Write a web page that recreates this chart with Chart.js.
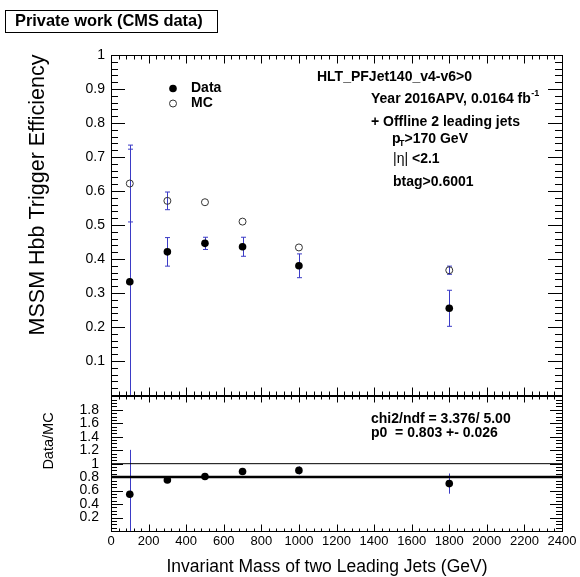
<!DOCTYPE html>
<html>
<head>
<meta charset="utf-8">
<script src="https://cdn.jsdelivr.net/npm/chart.js@4/dist/chart.umd.min.js"></script>
<style>
html,body{margin:0;padding:0;background:#fff;}
</style>
</head>
<body>
<canvas id="chartTrigEff" width="580" height="577"></canvas>
<script>
// values
const massBins   = [100, 300, 500, 700, 1000, 1800];
const effData    = [0.333, 0.421, 0.446, 0.436, 0.380, 0.255];
const effDataErr = [0.390, 0.042, 0.018, 0.028, 0.035, 0.053];
const effMC      = [0.622, 0.571, 0.567, 0.510, 0.434, 0.367];
const effMCErr   = [0.113, 0.026, 0.006, 0.006, 0.006, 0.012];
const ratioData  = [0.545, 0.758, 0.809, 0.884, 0.900, 0.704];
const ratioErr   = [0.660, 0.050, 0.030, 0.050, 0.060, 0.150];
const fitP0 = 0.803;
const unity = 1;
const xRange = [0, 2400];

(function(){
    const FONT = "'Liberation Sans', Arial, Helvetica, sans-serif";
    const ERR_COLOR = '#3b3bc6';
    const MARKER_R = 3.8;

    function points(xs, ys){
        return xs.map((x, i) => ({ x, y: ys[i] }));
    }

    function drawErrors(chart, scaleId, ys, errs, cap){
        const ctx = chart.ctx, a = chart.chartArea;
        const sx = chart.scales.x, sy = chart.scales[scaleId];
        ctx.save();
        ctx.beginPath();
        ctx.rect(a.left, sy.top, a.right - a.left, sy.bottom - sy.top);
        ctx.clip();
        ctx.strokeStyle = ERR_COLOR;
        ctx.lineWidth = 1;
        massBins.forEach((m, i) => {
            const px = Math.round(sx.getPixelForValue(m)) + 0.5;
            const hi = sy.getPixelForValue(ys[i] + errs[i]);
            const lo = sy.getPixelForValue(ys[i] - errs[i]);
            // like ROOT: nothing drawn when the bar hides inside the marker
            if((lo - hi) / 2 <= MARKER_R) return;
            ctx.beginPath();
            ctx.moveTo(px, hi); ctx.lineTo(px, lo);
            if(cap){
                ctx.moveTo(px - cap, hi); ctx.lineTo(px + cap, hi);
                ctx.moveTo(px - cap, lo); ctx.lineTo(px + cap, lo);
            }
            ctx.stroke();
        });
        ctx.restore();
    }

    function yTicks(ctx, s, a, max, step, sub, big, small){
        const n = Math.round(max / step);
        ctx.beginPath();
        for(let i = 0; i <= n; i++){
            const py = Math.round(s.getPixelForValue(i * step)) + 0.5;
            const len = i % sub === 0 ? big : small;
            ctx.moveTo(a.left, py); ctx.lineTo(a.left + len, py);
            ctx.moveTo(a.right, py); ctx.lineTo(a.right - len, py);
        }
        ctx.stroke();
    }

    function xTicks(ctx, s, y, dir, big, small){
        const step = 40, n = Math.round((xRange[1] - xRange[0]) / step);
        ctx.beginPath();
        for(let i = 0; i <= n; i++){
            const px = Math.round(s.getPixelForValue(xRange[0] + i * step)) + 0.5;
            const len = i % 5 === 0 ? big : small;
            ctx.moveTo(px, y); ctx.lineTo(px, y + dir * len);
        }
        ctx.stroke();
    }

    function text(ctx, s, x, y, size, bold, align){
        ctx.font = (bold ? 'bold ' : '') + size + 'px ' + FONT;
        ctx.textAlign = align || 'left';
        ctx.textBaseline = 'middle';
        ctx.fillText(s, x, y);
        return x + ctx.measureText(s).width;
    }

    function vtext(ctx, s, x, y, size){
        ctx.save();
        ctx.translate(x, y);
        ctx.rotate(-Math.PI / 2);
        text(ctx, s, 0, 0, size, false, 'center');
        ctx.restore();
    }

    const rootFrame = {
        id: 'rootFrame',
        beforeDatasetsDraw(chart){
            drawErrors(chart, 'eff', effData, effDataErr, 2.5);
            drawErrors(chart, 'eff', effMC, effMCErr, 2.5);
            drawErrors(chart, 'ratio', ratioData, ratioErr, 0);
        },
        afterDraw(chart){
            const ctx = chart.ctx, a = chart.chartArea;
            const eff = chart.scales.eff, rat = chart.scales.ratio, sx = chart.scales.x;
            ctx.save();
            ctx.strokeStyle = '#000';
            ctx.fillStyle = '#000';
            ctx.lineWidth = 1;

            // pad frames
            const L = Math.round(a.left) + 0.5, R = Math.round(a.right) + 0.5;
            const effTop = Math.round(eff.top) + 0.5, effBot = Math.round(eff.bottom) + 0.5;
            const ratTop = effBot + 1, ratBot = Math.round(rat.bottom) + 0.5;
            ctx.strokeRect(L, effTop, R - L, effBot - effTop);
            ctx.strokeRect(L, ratTop, R - L, ratBot - ratTop);

            yTicks(ctx, eff, a, 1, 0.02, 5, 14, 7);
            yTicks(ctx, rat, a, 2, 0.05, 4, 12, 6);
            xTicks(ctx, sx, effTop, 1, 8, 4);
            xTicks(ctx, sx, effBot, -1, 8, 4);
            xTicks(ctx, sx, ratTop, 1, 6, 3);
            xTicks(ctx, sx, ratBot, -1, 7, 3);

            // title box
            ctx.strokeRect(5.5, 10.5, 212, 22);
            text(ctx, 'Private work (CMS data)', 15, 21.5, 16.4, true);

            // axis titles
            vtext(ctx, 'MSSM Hbb Trigger Efficiency', 38, 195, 21.5);
            vtext(ctx, 'Data/MC', 49, 441, 14.5);
            text(ctx, 'Invariant Mass of two Leading Jets (GeV)', 327, 567, 17.5, false, 'center');

            // legend
            ctx.beginPath(); ctx.arc(173, 88.5, MARKER_R, 0, Math.PI * 2); ctx.fill();
            ctx.beginPath(); ctx.arc(173, 103.5, 3.5, 0, Math.PI * 2);
            ctx.strokeStyle = '#333'; ctx.stroke();
            text(ctx, 'Data', 191, 88.5, 14, true);
            text(ctx, 'MC', 191, 103.5, 14, true);

            // selection labels
            text(ctx, 'HLT_PFJet140_v4-v6>0', 317, 77, 14, true);
            let e = text(ctx, 'Year 2016APV, 0.0164 fb', 371, 99.5, 14, true);
            text(ctx, '-1', e + 0.5, 94, 9, true);
            text(ctx, '+ Offline 2 leading jets', 371, 122, 14, true);
            e = text(ctx, 'p', 392, 139, 14, true);
            text(ctx, 'T', e - 1.5, 144, 9, true);
            text(ctx, '>170 GeV', e + 4, 139.5, 14, true);
            e = text(ctx, '|η|', 393, 159.5, 14, false);
            text(ctx, ' <2.1', e, 159.5, 14, true);
            text(ctx, 'btag>0.6001', 393, 182, 14, true);

            // fit result
            text(ctx, 'chi2/ndf = 3.376/ 5.00', 371, 419.5, 14, true);
            text(ctx, 'p0  = 0.803 +- 0.026', 371, 433.5, 14, true);
            ctx.restore();
        }
    };

    function init(){
        Chart.defaults.font.family = FONT;
        Chart.defaults.color = '#000';
        const ctx = document.getElementById('chartTrigEff').getContext('2d');
        new Chart(ctx, {
            type: 'scatter',
            data: {
                datasets: [
                    { label: 'Data', data: points(massBins, effData), yAxisID: 'eff',
                      pointRadius: MARKER_R, pointBackgroundColor: '#000', pointBorderColor: '#000', pointBorderWidth: 0 },
                    { label: 'MC', data: points(massBins, effMC), yAxisID: 'eff',
                      pointRadius: 3.5, pointBackgroundColor: 'rgba(0,0,0,0)', pointBorderColor: '#333', pointBorderWidth: 1 },
                    { label: 'Data/MC', data: points(massBins, ratioData), yAxisID: 'ratio',
                      pointRadius: MARKER_R, pointBackgroundColor: '#000', pointBorderColor: '#000', pointBorderWidth: 0 },
                    { label: 'fit', data: points(xRange, [fitP0, fitP0]), yAxisID: 'ratio', showLine: true,
                      borderColor: '#000', borderWidth: 2.6, pointRadius: 0 },
                    { label: 'one', data: points(xRange, [unity, unity]), yAxisID: 'ratio', showLine: true,
                      borderColor: '#000', borderWidth: 1, pointRadius: 0 }
                ]
            },
            options: {
                responsive: false,
                animation: false,
                layout: { padding: { top: 55, right: 18, bottom: 16, left: 0 } },
                plugins: { legend: { display: false }, tooltip: { enabled: false } },
                scales: {
                    x: {
                        type: 'linear', min: xRange[0], max: xRange[1],
                        grid: { display: false, drawTicks: false }, border: { display: false },
                        ticks: { stepSize: 200, autoSkip: false, maxRotation: 0, padding: 3, font: { size: 13 },
                                 callback: v => String(Math.round(v)) },
                        afterFit: s => { s.height = 30; }
                    },
                    ratio: {
                        type: 'linear', position: 'left', stack: 'pads', stackWeight: 136,
                        min: 0, max: 2.02,
                        grid: { display: false, drawTicks: false }, border: { display: false },
                        ticks: { stepSize: 0.2, includeBounds: false, autoSkip: false, padding: 12, font: { size: 14 },
                                 callback: v => (v <= 0.01 || v >= 1.99) ? '' : String(+v.toFixed(1)) },
                        afterFit: s => { s.width = 111; }
                    },
                    eff: {
                        type: 'linear', position: 'left', stack: 'pads', stackWeight: 340,
                        min: 0, max: 1,
                        grid: { display: false, drawTicks: false }, border: { display: false },
                        ticks: { stepSize: 0.1, autoSkip: false, padding: 6, font: { size: 14 },
                                 callback: v => v <= 0.01 ? '' : String(+v.toFixed(1)) },
                        afterFit: s => { s.width = 111; }
                    }
                }
            },
            plugins: [rootFrame]
        });
    }

    document.addEventListener('DOMContentLoaded', init);
})();
</script>
</body>
</html>
